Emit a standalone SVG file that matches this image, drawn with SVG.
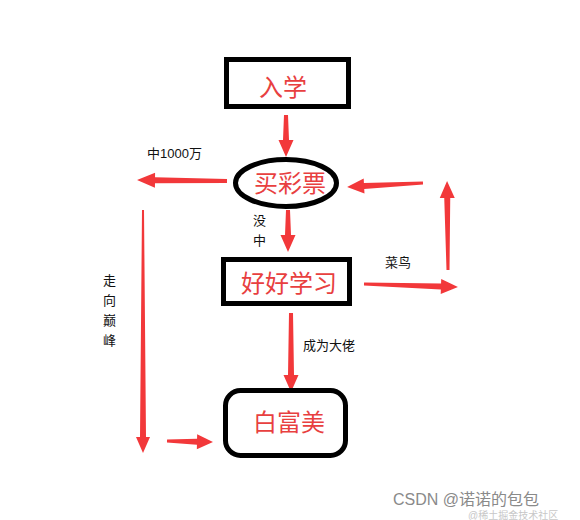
<svg xmlns="http://www.w3.org/2000/svg" width="580" height="520" viewBox="0 0 580 520">
<style>
.node{fill:#fff;stroke:#000;stroke-width:5}
.big{font-family:"Liberation Sans","Noto Sans CJK SC",sans-serif;font-size:24px;fill:#e8403f;text-anchor:middle}
.lbl{font-family:"Liberation Sans","Noto Sans CJK SC",sans-serif;font-size:13px;fill:#111}
.arr{fill:#f2383a}
.wm{font-family:"Liberation Sans","Noto Sans CJK SC",sans-serif}
</style>
<rect width="580" height="520" fill="#fff"/>
<g id="connectors">
<path class="arr" transform="translate(286,115) rotate(90)" d="M0,-2 L25,-3 L25,-7.5 L42,0 L25,7.5 L25,3 L0,2 Z"/>
<path class="arr" transform="translate(227,181) rotate(180.6)" d="M0,-2 L72,-3 L72,-7.5 L90,0 L72,7.5 L72,3 L0,2 Z"/>
<path class="arr" transform="translate(423,183) rotate(177)" d="M0,-1.5 L59,-3 L59,-7.5 L76,0 L59,7.5 L59,3 L0,1.5 Z"/>
<path class="arr" transform="translate(448,270) rotate(-90.6)" d="M0,-1.5 L72,-3 L72,-7.5 L89,0 L72,7.5 L72,3 L0,1.5 Z"/>
<path class="arr" transform="translate(288,210) rotate(90)" d="M0,-2 L25,-3 L25,-7.5 L42,0 L25,7.5 L25,3 L0,2 Z"/>
<path class="arr" transform="translate(364,284) rotate(1.8)" d="M0,-1.5 L77,-3 L77,-7.5 L94,0 L77,7.5 L77,3 L0,1.5 Z"/>
<path class="arr" transform="translate(291,313) rotate(90)" d="M0,-2 L62,-3 L62,-7.5 L79,0 L62,7.5 L62,3 L0,2 Z"/>
<path class="arr" transform="translate(143,210) rotate(90)" d="M0,-1 L227,-3 L227,-7 L243,0 L227,7 L227,3 L0,1 Z"/>
<path class="arr" transform="translate(167,441) rotate(1.2)" d="M0,-1.5 L30,-3 L30,-7.5 L46,0 L30,7.5 L30,3 L0,1.5 Z"/>
<text class="lbl" x="147" y="158">中1000万</text>
<text class="lbl" x="253" y="225">没</text>
<text class="lbl" x="253" y="245">中</text>
<text class="lbl" x="385" y="267">菜鸟</text>
<text class="lbl" x="303" y="350">成为大佬</text>
<text class="lbl" x="103" y="285">走</text>
<text class="lbl" x="103" y="305">向</text>
<text class="lbl" x="103" y="325">巅</text>
<text class="lbl" x="103" y="345">峰</text>
</g>
<g id="node-ruxue">
<rect class="node" x="226.5" y="59.5" width="122" height="47"/>
<text class="big" x="283" y="96">入学</text>
</g>
<g id="node-maicaipiao">
<ellipse class="node" cx="286" cy="183" rx="50.5" ry="23.5"/>
<text class="big" x="290" y="192">买彩票</text>
</g>
<g id="node-haohaoxuexi">
<rect class="node" x="223.5" y="259.5" width="126" height="44"/>
<text class="big" x="289" y="292">好好学习</text>
</g>
<g id="node-baifumei">
<rect class="node" x="225.5" y="390.5" width="120" height="65" rx="15"/>
<text class="big" x="289" y="431">白富美</text>
</g>
<g id="watermark">
<text class="wm" x="468" y="518.5" font-size="10" fill="#c8c8c8">@稀土掘金技术社区</text>
<text class="wm" x="393" y="505" font-size="16" fill="#8a8a8a">CSDN @诺诺的包包</text>
</g>
</svg>
